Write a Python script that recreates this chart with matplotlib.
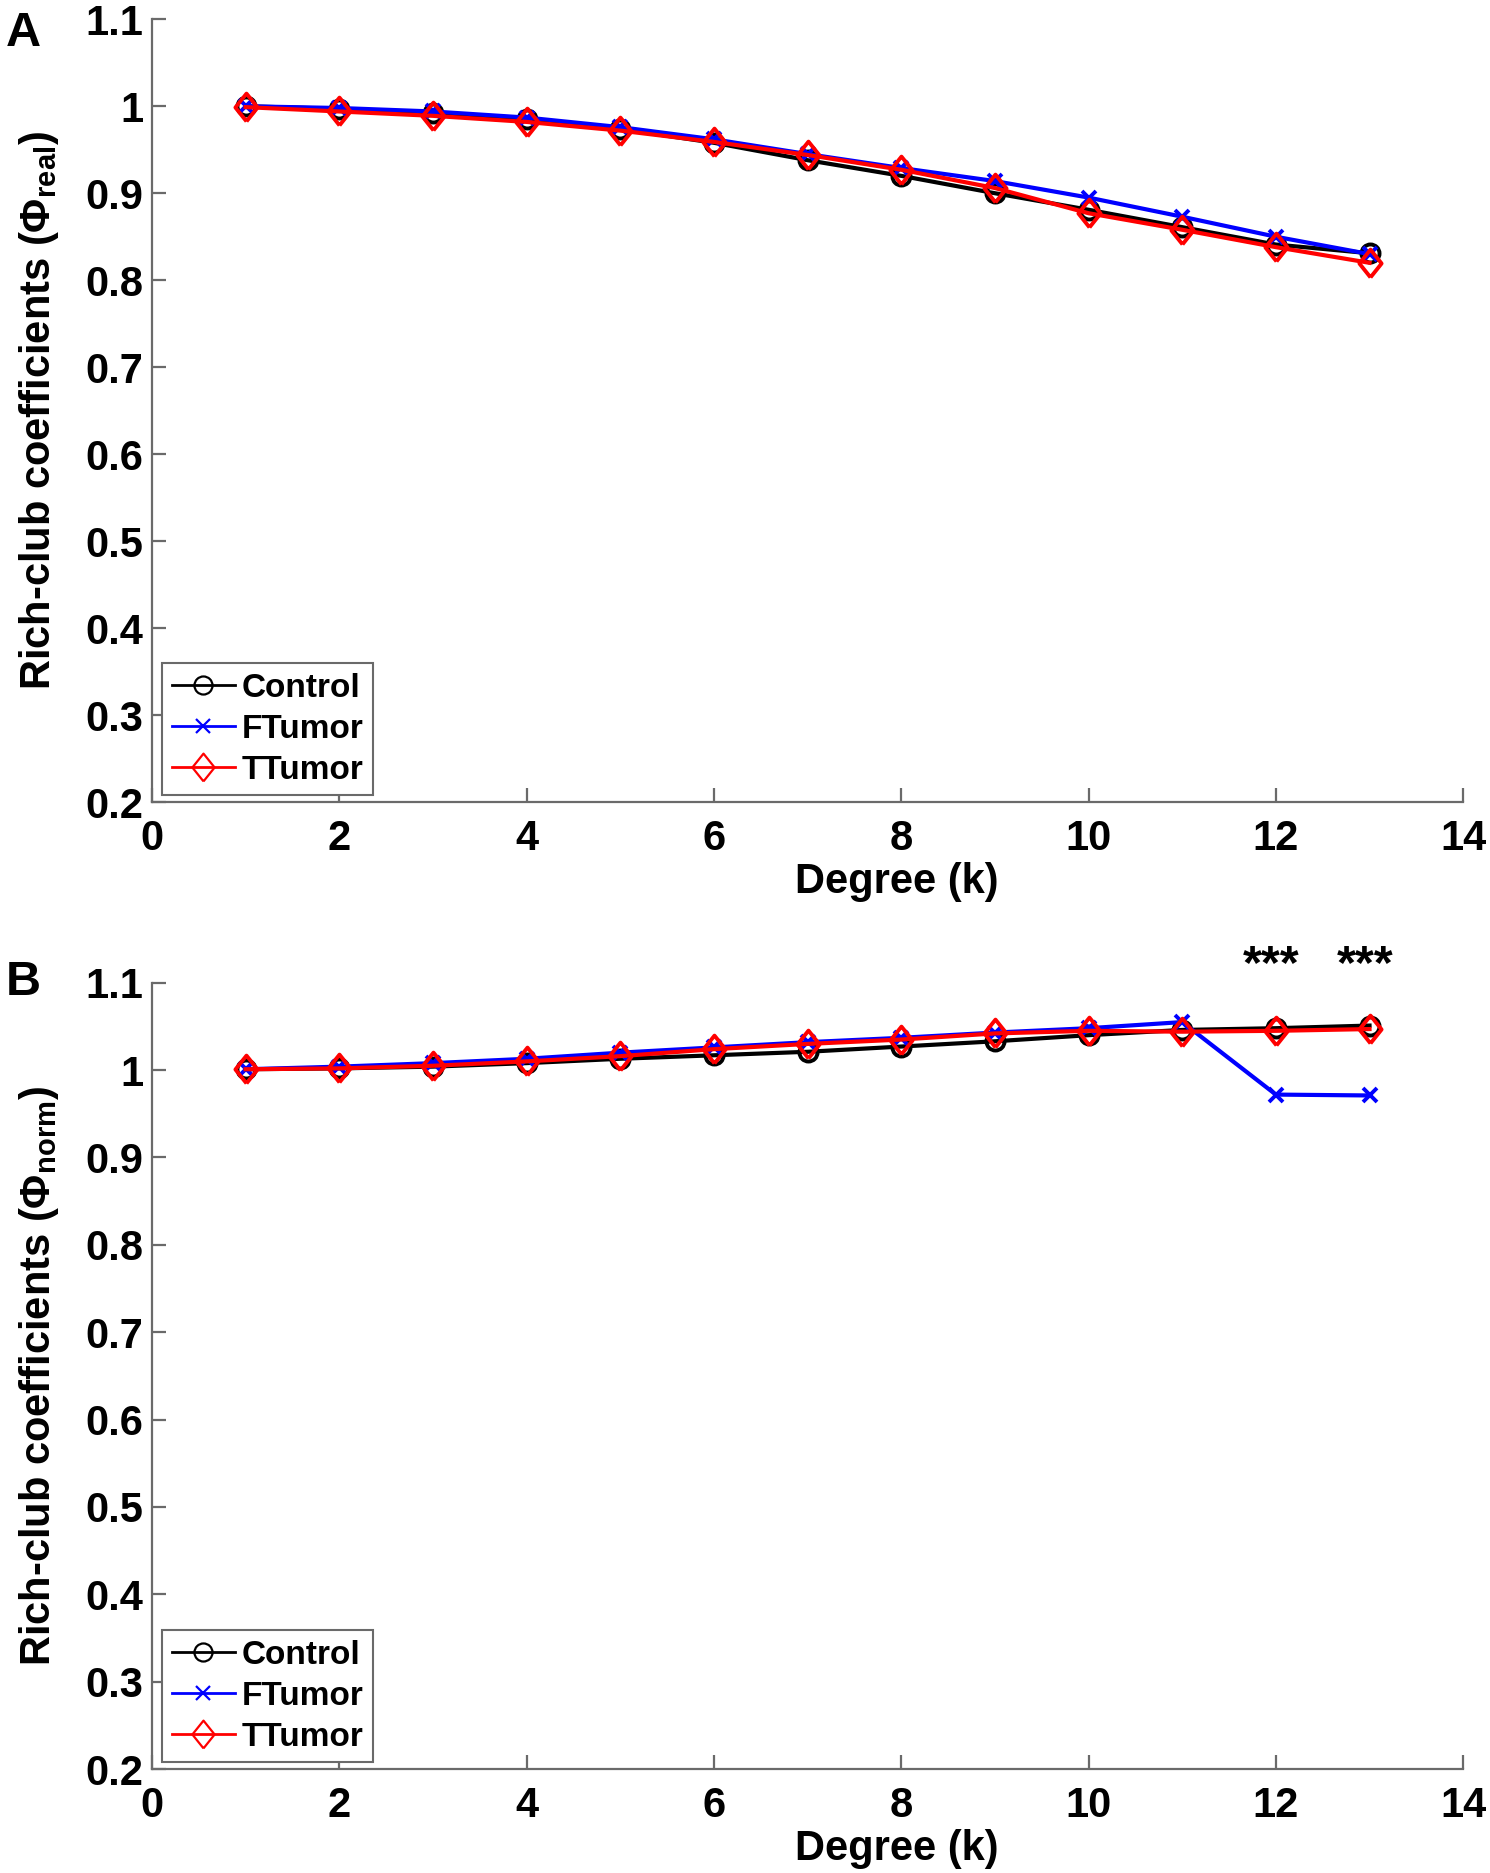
import numpy as np
import matplotlib
matplotlib.use('Agg')
import matplotlib.pyplot as plt
from matplotlib.lines import Line2D

plt.rcParams['font.family'] = ['Liberation Sans', 'DejaVu Sans']
plt.rcParams['font.weight'] = 'bold'
plt.rcParams['mathtext.fontset'] = 'custom'
plt.rcParams['mathtext.rm'] = 'Liberation Sans:bold'
plt.rcParams['mathtext.bf'] = 'Liberation Sans:bold'

# Degree k
degree = [1, 2, 3, 4, 5, 6, 7, 8, 9, 10, 11, 12, 13]
groups = ['Control', 'FTumor', 'TTumor']

# panel A: phi_real
real_control = [1.000, 0.997, 0.992, 0.985, 0.974, 0.958, 0.938, 0.920, 0.900, 0.881, 0.861, 0.841, 0.831]
real_ftumor = [1.000, 0.998, 0.994, 0.987, 0.976, 0.962, 0.945, 0.929, 0.914, 0.895, 0.873, 0.850, 0.830]
real_ttumor = [0.999, 0.994, 0.989, 0.982, 0.972, 0.959, 0.944, 0.927, 0.906, 0.877, 0.858, 0.838, 0.820]

# panel B: phi_norm
norm_control = [1.001, 1.002, 1.004, 1.008, 1.013, 1.017, 1.021, 1.027, 1.033, 1.040, 1.046, 1.048, 1.051]
norm_ftumor = [1.001, 1.004, 1.008, 1.013, 1.020, 1.026, 1.032, 1.037, 1.043, 1.048, 1.055, 0.972, 0.971]
norm_ttumor = [1.001, 1.002, 1.005, 1.010, 1.016, 1.024, 1.030, 1.035, 1.042, 1.045, 1.044, 1.045, 1.047]

# significance marks (panel B)
sig_degree = [12, 13]
sig_label = '***'

xticks = [0, 2, 4, 6, 8, 10, 12, 14]
yticks = [0.2, 0.3, 0.4, 0.5, 0.6, 0.7, 0.8, 0.9, 1.0, 1.1]
ytick_labels = ['0.2', '0.3', '0.4', '0.5', '0.6', '0.7', '0.8', '0.9', '1', '1.1']

# matlab-like diamond (a bit wider than mpl 'd')
diamond = [(0, -1), (0.8, 0), (0, 1), (-0.8, 0), (0, -1)]

styles = {
    'Control': dict(color='black', marker='o', ms=13),
    'FTumor': dict(color='#0000ff', marker='x', ms=10),
    'TTumor': dict(color='#ff0000', marker=diamond, ms=20),
}

axis_gray = '#6a6a6a'

fig = plt.figure(figsize=(14.9, 18.73), dpi=100)
axA = fig.add_axes([0.102, 0.5718, 0.880, 0.4179])
axB = fig.add_axes([0.102, 0.0555, 0.880, 0.4198])


def draw_panel(ax, series, sub):
    for name, vals in zip(groups, series):
        st = styles[name]
        ax.plot(degree, vals, color=st['color'], marker=st['marker'], ms=st['ms'],
                mfc='none', mew=2.8, lw=3.0, clip_on=False)
    ax.set_xlim(0, 14)
    ax.set_ylim(0.2, 1.1)
    ax.set_xticks(xticks)
    ax.set_yticks(yticks)
    ax.set_yticklabels(ytick_labels)
    for s in ['top', 'right']:
        ax.spines[s].set_visible(False)
    for s in ['left', 'bottom']:
        ax.spines[s].set_color(axis_gray)
        ax.spines[s].set_linewidth(1.6)
    ax.tick_params(direction='in', length=10, width=1.6, color=axis_gray,
                   labelsize=30, labelcolor='black')
    ax.tick_params(axis='x', pad=12)
    ax.tick_params(axis='y', pad=6)
    ax.text(0.568, -0.102, 'Degree (k)', transform=ax.transAxes, ha='center',
            va='center', fontsize=30, fontweight='bold')
    ax.text(-0.086, 0.5, 'Rich-club coefficients (Φ$_{\\mathrm{' + sub + '}}$)',
            transform=ax.transAxes, rotation=90, ha='center', va='center',
            fontsize=30, fontweight='bold')
    handles = []
    for name in groups:
        st = styles[name]
        handles.append(Line2D([], [], color=st['color'], marker=st['marker'],
                              ms=st['ms'], mfc='none', mew=1.6, lw=2.0))
    leg = ax.legend(handles, groups, loc='lower left', bbox_to_anchor=(0.008, 0.009),
                    borderaxespad=0, fontsize=24, handlelength=1.9, handletextpad=0.2,
                    labelspacing=0.3, borderpad=0.28, fancybox=False, framealpha=1)
    leg.get_frame().set_edgecolor(axis_gray)
    leg.get_frame().set_linewidth(1.5)


draw_panel(axA, [real_control, real_ftumor, real_ttumor], 'real')
draw_panel(axB, [norm_control, norm_ftumor, norm_ttumor], 'norm')

for k in sig_degree:
    axB.text(k - 0.05, 1.120, sig_label, ha='center', va='center', fontsize=35,
             fontweight='bold', clip_on=False)

fig.text(0.004, 0.994, 'A', ha='left', va='top', fontsize=35, fontweight='bold')
fig.text(0.004, 0.4875, 'B', ha='left', va='top', fontsize=35, fontweight='bold')

fig.savefig('out.png', dpi=100)
